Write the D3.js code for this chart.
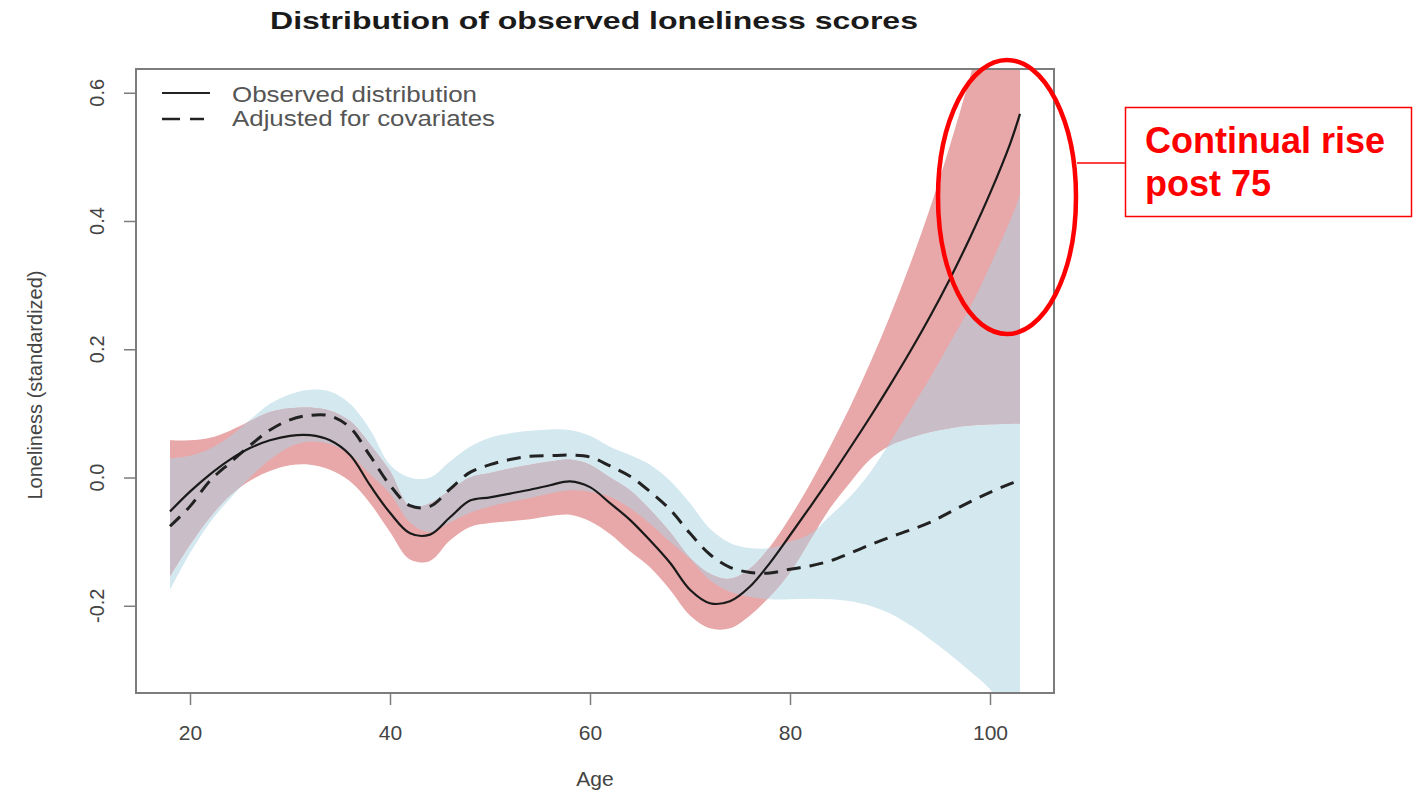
<!DOCTYPE html>
<meta charset="utf-8">
<style>
  body { margin: 0; background: #fff; font-family: "Liberation Sans", Arial, Helvetica, sans-serif; }
</style>
<body>
<svg></svg>
<script src="https://d3js.org/d3.v7.min.js"></script>
<script>

// values (age vs standardized loneliness)
var ages = [18, 20, 22, 24, 26, 28, 30, 32, 34, 36, 38, 40, 42, 44, 46, 48, 50, 52, 54, 56, 58, 60,
            62, 64, 66, 68, 70, 72, 74, 76, 78, 80, 82, 84, 86, 88, 90, 92, 94, 96, 98, 100, 102, 103];

var observed = [-0.053, -0.022, 0.005, 0.028, 0.046, 0.058, 0.065, 0.066, 0.058, 0.035, -0.012, -0.055,
                -0.087, -0.089, -0.062, -0.036, -0.031, -0.025, -0.019, -0.012, -0.006, -0.015,
                -0.040, -0.066, -0.098, -0.133, -0.175, -0.196, -0.193, -0.170, -0.133, -0.090,
                -0.046, -0.001, 0.046, 0.094, 0.144, 0.196, 0.251, 0.310, 0.374, 0.443, 0.520, 0.567];
var obsLower = [-0.154, -0.105, -0.062, -0.028, -0.005, 0.010, 0.019, 0.020, 0.012, -0.006, -0.040, -0.085,
                -0.128, -0.130, -0.098, -0.077, -0.071, -0.068, -0.065, -0.060, -0.058, -0.068,
                -0.088, -0.115, -0.140, -0.175, -0.215, -0.235, -0.235, -0.215, -0.185, -0.148,
                -0.098, -0.048, -0.008, 0.028, 0.050, 0.062, 0.071, 0.077, 0.081, 0.083, 0.084, 0.084];
var obsUpper = [0.058, 0.058, 0.062, 0.073, 0.088, 0.102, 0.108, 0.109, 0.104, 0.088, 0.052, 0.010,
                -0.045, -0.040, -0.020, 0.000, 0.007, 0.014, 0.020, 0.025, 0.028, 0.020,
                0.000, -0.020, -0.050, -0.085, -0.125, -0.150, -0.158, -0.142, -0.108, -0.062,
                -0.010, 0.048, 0.110, 0.178, 0.252, 0.332, 0.420, 0.518, 0.625, 0.740, 0.865, 0.930];

var adjusted = [-0.076, -0.045, -0.005, 0.023, 0.050, 0.074, 0.090, 0.097, 0.096, 0.078, 0.034, -0.012,
                -0.044, -0.045, -0.018, 0.008, 0.020, 0.028, 0.033, 0.034, 0.035, 0.032,
                0.018, 0.002, -0.022, -0.050, -0.087, -0.120, -0.140, -0.148, -0.149, -0.143,
                -0.138, -0.130, -0.118, -0.105, -0.093, -0.082, -0.070, -0.054, -0.038, -0.023, -0.010, -0.004];
var adjLower = [-0.175, -0.118, -0.070, -0.033, 0.000, 0.028, 0.048, 0.056, 0.052, 0.036, 0.005, -0.025,
                -0.070, -0.085, -0.070, -0.055, -0.045, -0.038, -0.032, -0.025, -0.020, -0.022,
                -0.030, -0.048, -0.072, -0.100, -0.127, -0.160, -0.178, -0.186, -0.190, -0.190,
                -0.189, -0.190, -0.193, -0.200, -0.212, -0.230, -0.252, -0.276, -0.302, -0.330, -0.370, -0.395];
var adjUpper = [0.030, 0.034, 0.045, 0.064, 0.090, 0.115, 0.130, 0.137, 0.134, 0.115, 0.075, 0.020,
                0.000, 0.000, 0.025, 0.048, 0.062, 0.069, 0.073, 0.075, 0.074, 0.065,
                0.048, 0.035, 0.020, -0.005, -0.040, -0.080, -0.102, -0.110, -0.110, -0.100,
                -0.088, -0.060, -0.030, 0.008, 0.055, 0.105, 0.155, 0.210, 0.265, 0.330, 0.400, 0.440];

var xTicks = [20, 40, 60, 80, 100];
var yTicks = [-0.2, 0.0, 0.2, 0.4, 0.6];
var yTickLabels = ["-0.2", "0.0", "0.2", "0.4", "0.6"];
var legendLabels = ["Observed distribution", "Adjusted for covariates"];

var width = 1418, height = 793;
// plot box (window.top is read-only, so no plain "top" here)
var pLeft = 136, pRight = 1054, pTop = 69, pBottom = 693;

var svg = d3.select('svg').attr('width', width).attr('height', height);

var x = d3.scaleLinear().domain([14.6, 106.4]).range([pLeft, pRight]);
var y = d3.scaleLinear().domain([-0.336, 0.637]).range([pBottom, pTop]);

var rows = ages.map(function (a, i) {
    return {age: a, obs: observed[i], oLo: obsLower[i], oHi: obsUpper[i],
            adj: adjusted[i], aLo: adjLower[i], aHi: adjUpper[i]};
});

var curve = d3.curveCatmullRom.alpha(0.5);
var obsBand = d3.area().curve(curve).x(function (d) { return x(d.age); })
    .y0(function (d) { return y(d.oLo); }).y1(function (d) { return y(d.oHi); });
var adjBand = d3.area().curve(curve).x(function (d) { return x(d.age); })
    .y0(function (d) { return y(d.aLo); }).y1(function (d) { return y(d.aHi); });
var obsLine = d3.line().curve(curve).x(function (d) { return x(d.age); }).y(function (d) { return y(d.obs); });
var adjLine = d3.line().curve(curve).x(function (d) { return x(d.age); }).y(function (d) { return y(d.adj); });

var defs = svg.append('defs');
defs.append('clipPath').attr('id', 'plot')
    .append('rect').attr('x', pLeft).attr('y', pTop).attr('width', pRight - pLeft).attr('height', pBottom - pTop);
defs.append('clipPath').attr('id', 'adjclip')
    .append('path').attr('d', adjBand(rows));

var g = svg.append('g').attr('clip-path', 'url(#plot)');

g.append('path').attr('d', adjBand(rows)).attr('fill', '#d4e8f0');
g.append('path').attr('d', obsBand(rows)).attr('fill', '#e8a7a8');
// overlap of the two bands
g.append('path').attr('d', obsBand(rows)).attr('fill', '#c9bec8').attr('clip-path', 'url(#adjclip)');

g.append('path').attr('d', adjLine(rows)).attr('fill', 'none')
    .attr('stroke', '#222').attr('stroke-width', 3).attr('stroke-dasharray', '14,9');
g.append('path').attr('d', obsLine(rows)).attr('fill', 'none')
    .attr('stroke', '#1a1a1a').attr('stroke-width', 2.2);

// frame
svg.append('rect').attr('x', pLeft).attr('y', pTop).attr('width', pRight - pLeft).attr('height', pBottom - pTop)
    .attr('fill', 'none').attr('stroke', '#7c7c7c').attr('stroke-width', 2);

// x axis
var xAxis = svg.append('g').attr('transform', 'translate(0,' + pBottom + ')')
    .call(d3.axisBottom(x).tickValues(xTicks).tickSize(12).tickPadding(20).tickFormat(d3.format('d')));
xAxis.select('.domain').remove();
xAxis.selectAll('line').attr('stroke', '#7c7c7c').attr('stroke-width', 1.5);
xAxis.selectAll('text').attr('fill', '#444').style('font-size', '21px')
    .style('font-family', '"Liberation Sans", Arial, sans-serif');

// y axis
var yAxis = svg.append('g').attr('transform', 'translate(' + pLeft + ',0)')
    .call(d3.axisLeft(y).tickValues(yTicks).tickSize(12).tickFormat(''));
yAxis.select('.domain').remove();
yAxis.selectAll('line').attr('stroke', '#7c7c7c').attr('stroke-width', 1.5);

svg.selectAll('.ylab').data(yTicks).enter().append('text').attr('class', 'ylab')
    .attr('transform', function (d) { return 'translate(104,' + y(d) + ')rotate(-90)'; })
    .attr('text-anchor', 'middle').attr('fill', '#444').style('font-size', '20px')
    .text(function (d, i) { return yTickLabels[i]; });

svg.append('text').attr('transform', 'translate(42,385)rotate(-90)')
    .attr('text-anchor', 'middle').attr('fill', '#444').style('font-size', '20px')
    .text('Loneliness (standardized)');

svg.append('text').attr('x', 595).attr('y', 786).attr('text-anchor', 'middle')
    .attr('fill', '#444').style('font-size', '21px').text('Age');

svg.append('text').attr('x', 594).attr('y', 29).attr('text-anchor', 'middle')
    .attr('fill', '#1a1a1a').style('font-size', '24px').style('font-weight', 'bold')
    .attr('textLength', 648).attr('lengthAdjust', 'spacingAndGlyphs')
    .text('Distribution of observed loneliness scores');

// legend
var legend = svg.append('g');
legend.append('line').attr('x1', 162).attr('x2', 210).attr('y1', 93).attr('y2', 93)
    .attr('stroke', '#222').attr('stroke-width', 2.2);
legend.append('line').attr('x1', 162).attr('x2', 204).attr('y1', 119).attr('y2', 119)
    .attr('stroke', '#222').attr('stroke-width', 2.6).attr('stroke-dasharray', '18,10');
legend.selectAll('text').data(legendLabels).enter().append('text')
    .attr('x', 232).attr('y', function (d, i) { return 102 + i * 24; })
    .attr('fill', '#555').style('font-size', '22px')
    .attr('textLength', function (d, i) { return i ? 263 : 245; })
    .attr('lengthAdjust', 'spacingAndGlyphs')
    .text(function (d) { return d; });

// annotation
var note = svg.append('g');
note.append('ellipse').attr('cx', 1007).attr('cy', 197).attr('rx', 69).attr('ry', 137)
    .attr('fill', 'none').attr('stroke', '#ff0000').attr('stroke-width', 4.5);
note.append('line').attr('x1', 1077).attr('x2', 1125).attr('y1', 163).attr('y2', 163)
    .attr('stroke', '#ff0000').attr('stroke-width', 1.5);
note.append('rect').attr('x', 1125.5).attr('y', 107.5).attr('width', 286).attr('height', 109)
    .attr('fill', '#fff').attr('stroke', '#ff0000').attr('stroke-width', 1.5);
note.append('text').attr('x', 1145).attr('y', 153).attr('fill', '#ff0000')
    .style('font-size', '36px').style('font-weight', 'bold').text('Continual rise');
note.append('text').attr('x', 1145).attr('y', 196).attr('fill', '#ff0000')
    .style('font-size', '36px').style('font-weight', 'bold').text('post 75');

</script>
</body>
